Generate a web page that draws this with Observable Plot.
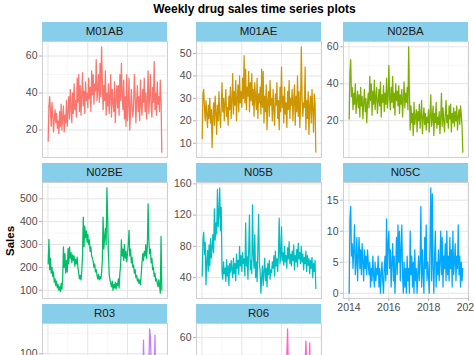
<!DOCTYPE html>
<html><head><meta charset="utf-8">
<script src="https://cdn.jsdelivr.net/npm/d3@7"></script>
<script src="https://cdn.jsdelivr.net/npm/@observablehq/plot@0.6"></script>
<style>
html,body{margin:0;padding:0;overflow:hidden;background:#fff;}
#chart{position:relative;width:474px;height:470px;font-family:"Liberation Sans",Arial,sans-serif;color:#000;}
.title{position:absolute;left:254.5px;top:2px;transform:translateX(-50%);white-space:nowrap;font-weight:bold;font-size:12px;line-height:14px;}
.ylab{position:absolute;left:10px;top:241px;transform:translate(-50%,-50%) rotate(-90deg);font-weight:bold;font-size:11.5px;white-space:nowrap;}
.strip{position:absolute;height:19px;line-height:19px;background:#87CEEB;color:#1a1a1a;font-size:11.5px;text-align:center;}
</style></head><body><div id="chart"></div>
<script>
const drugs = ["M01AB","M01AE","N02BA","N02BE","N05B","N05C","R03","R06"];
const colors = ["#F8766D","#CD9600","#7CAE00","#00BE67","#00BFC4","#00A9FF","#C77CFF","#FF61CC"];
const startDate = "2014-01-05";   // first week, values are every second week

const M01AB = [14,33,38,30,22,35,28,19,26,31,24,29,21,
25,18,30,22,34,20,27,33,19,28,24,36,22,
30,38,26,42,33,24,40,29,45,31,36,27,48,
35,50,30,44,28,38,51,33,41,29,46,36,40,
32,48,37,43,30,52,39,50,34,45,41,58,36,
42,50,35,56,38,65,47,31,44,36,52,28,40,
33,45,29,38,50,27,42,35,30,46,24,37,44,
32,44,28,50,36,56,40,31,47,26,38,22,50,
25,35,48,20,30,42,33,27,33,50,39,24,36,
44,30,38,25,47,33,28,42,35,48,30,40,26,
36,52,29,38,50,32,27,43,35,57,31,40,28,
46,34,38,30,47,36,8];

const M01AE = [12,32,34,26,20,29,23,17,27,21,30,19,25,
8,22,28,18,31,24,14,27,20,33,23,17,26,
37,24,30,20,28,34,22,26,18,31,25,35,21,
29,41,23,33,27,38,20,30,36,24,40,28,33,
26,39,30,49,28,43,25,35,31,42,24,37,29,
41,27,34,22,37,30,25,39,21,32,28,35,23,
43,26,42,19,31,24,36,16,29,33,22,38,27,
30,20,34,25,18,32,27,37,21,29,16,35,24,
44,26,31,19,35,23,28,17,33,25,38,21,30,
27,34,20,29,36,18,31,24,40,22,33,17,28,
53,30,22,28,26,44,16,29,21,33,14,27,31,
19,34,25,15,32,28,6];

const N02BA = [21,46,53,33,38,26,35,29,40,24,31,36,27,
34,22,38,28,33,21,30,37,25,32,19,29,35,
27,44,31,40,23,36,29,42,26,33,38,24,30,
37,28,41,22,34,30,39,25,35,29,43,27,32,
50,33,26,38,30,44,27,35,23,40,31,36,28,
39,24,34,29,37,22,32,41,27,35,30,38,26,
60,35,15,28,19,24,12,30,18,22,26,14,25,
20,29,16,23,31,13,21,27,18,24,15,22,19,
26,14,23,34,17,21,28,12,24,19,30,16,22,
18,25,13,22,35,17,27,20,14,24,31,19,23,
16,28,21,29,14,24,19,27,17,25,20,28,15,
22,26,18,28,23,17,3];

const N02BE = [215,322,190,240,175,200,160,180,135,150,120,140,110,
125,100,115,95,130,105,150,290,200,260,175,230,180,
283,215,290,240,265,220,255,230,250,205,235,215,245,
200,175,150,165,145,180,250,420,290,380,330,360,310,
345,300,320,270,290,250,240,225,200,215,180,190,165,
150,170,145,160,150,175,230,420,280,330,370,300,548,
420,260,170,145,130,115,140,100,125,110,135,105,130,
120,150,110,175,210,320,250,280,230,300,240,270,225,
260,300,362,250,280,220,245,200,210,175,190,155,165,
140,150,130,145,125,170,220,260,230,270,250,300,240,
290,478,320,260,280,220,240,190,200,160,175,140,150,
130,115,145,120,87,336,101];

const N05B = [42,88,98,70,85,31,60,75,48,82,55,90,65,
78,95,72,128,88,110,96,153,105,122,155,100,130,
48,38,60,45,52,35,63,42,55,30,58,47,62,
50,40,65,45,58,36,70,52,62,44,80,55,68,
48,72,58,64,42,110,55,67,38,75,120,50,62,
45,133,70,52,95,40,60,35,78,121,58,48,20,
40,55,30,48,65,36,52,28,58,44,62,38,50,
46,60,52,68,42,74,55,64,48,70,116,58,66,
105,62,72,56,80,60,68,52,78,64,86,58,70,
55,74,62,82,50,68,60,76,54,84,64,72,58,
80,60,70,50,66,58,74,48,68,56,64,45,62,
52,66,40,58,48,62,26];

const N05C = [0,12,14,6,8,4,7,11,3,5,9,2,6,
9,4,7,3,8,5,2,7,4,6,3,7,5,
3,5,1,4,2,6,3,1,5,2,4,3,6,
1,4,0,3,5,2,0,4,6,2,12,3,8,
10,4,7,1,5,8,2,6,0,4,9,3,11,
5,10,2,7,11,3,0,5,1,4,0,6,2,
4,0,10,3,6,1,5,0,7,2,4,0,3,
6,2,5,14,1,7,3,0,9,4,11,2,5,
3,0,8,17,2,16,4,0,6,10,1,5,3,
7,2,5,10,3,9,1,6,4,8,2,10,3,
6,2,9,4,7,1,10,3,5,8,2,6,4,
11,3,6,1,5,2,4];

const R03 = [35,42,28,50,38,45,30,55,40,33,48,36,44,
30,25,38,22,34,28,40,32,46,38,52,44,60,
48,70,55,62,45,58,40,52,36,48,32,42,30,
26,35,22,30,28,38,45,36,52,44,58,50,65,
55,72,60,66,48,56,42,50,38,46,34,40,30,
28,36,24,32,40,35,48,42,56,50,64,58,75,
62,80,66,70,52,60,45,55,40,48,36,44,32,
30,38,26,34,42,36,50,44,58,52,68,60,85,
70,92,75,64,70,55,62,48,54,42,50,38,44,
34,40,30,38,46,40,55,48,117,60,75,66,88,
72,95,80,131,121,90,74,82,65,70,123,60,52,
46,40,50,38,44,35,0];

const R06 = [8,10,12,15,20,28,35,30,38,25,20,15,12,
10,8,9,7,10,8,11,9,7,10,8,9,11,
12,14,18,24,30,40,35,44,30,25,18,14,12,
10,9,8,11,7,9,10,8,12,9,7,10,8,
11,13,16,22,28,36,42,33,38,26,19,15,11,
9,10,7,8,11,9,6,10,8,9,7,11,10,
12,15,20,26,34,45,38,48,32,24,18,13,10,
9,8,10,7,9,11,8,6,10,9,7,8,11,
12,16,22,28,36,44,40,50,65,42,30,20,14,
10,9,7,8,11,6,9,10,8,7,9,11,12,
14,18,24,30,38,46,58,44,40,48,35,57,28,
18,14,10,8,6,9,5];

const yTickLabels = {
  M01AB: [20,40,60], M01AE: [10,20,30,40,50], N02BA: [20,40,60],
  N02BE: [100,200,300,400,500], N05B: [40,80,120,160], N05C: [0,5,10,15],
  R03: [0,50,100], R06: [20,40,60]
};
const xTickYears = [2014,2016,2018,2020];
const xMinorYears = [2015,2017,2019];

const series = {M01AB, M01AE, N02BA, N02BE, N05B, N05C, R03, R06};
const start = new Date(startDate + "T00:00:00Z");
const dates = M01AB.map((_, i) => d3.utcDay.offset(start, 14 * i));
const yearDate = y => new Date(Date.UTC(y, 0, 1));
const majorX = xTickYears.map(yearDate), minorX = xMinorYears.map(yearDate);

const chart = document.getElementById("chart");
const title = document.createElement("div");
title.className = "title"; title.textContent = "Weekly drug sales time series plots";
chart.appendChild(title);
const ylab = document.createElement("div");
ylab.className = "ylab"; ylab.textContent = "Sales";
chart.appendChild(ylab);

const colX = [42, 196, 343], rowY = [41, 182, 323], W = 125, H = 116, SH = 19;
const font = "'Liberation Sans', Arial, sans-serif";

drugs.forEach((name, k) => {
  const col = k % 3, row = Math.floor(k / 3);
  const x0 = colX[col], y0 = rowY[row];
  const vals = series[name];
  const data = vals.map((v, i) => ({date: dates[i], value: v}));
  const [lo, hi] = d3.extent(vals), pad = (hi - lo) * 0.05;
  const yDom = [lo - pad, hi + pad];
  const t0 = +dates[0], t1 = +dates[vals.length - 1], tp = (t1 - t0) * 0.05;
  const xDom = [new Date(t0 - tp), new Date(t1 + tp)];
  const majors = yTickLabels[name], step = majors[1] - majors[0];
  const minors = [majors[0] - step / 2, ...majors.map(m => m + step / 2)].filter(v => v > yDom[0] && v < yDom[1]);
  const showX = k >= 5;
  const ML = 34, MT = 1, MR = 1, MB = showX ? 18 : 1;
  const marks = [
    Plot.gridX(minorX, {stroke: "#f0f0f0", strokeOpacity: 1, strokeWidth: 0.6}),
    Plot.gridX(majorX, {stroke: "#e4e4e4", strokeOpacity: 1, strokeWidth: 1}),
    Plot.gridY(minors, {stroke: "#f0f0f0", strokeOpacity: 1, strokeWidth: 0.6}),
    Plot.gridY(majors, {stroke: "#e4e4e4", strokeOpacity: 1, strokeWidth: 1}),
    Plot.line(data, {x: "date", y: "value", stroke: colors[k], strokeWidth: 1.25}),
    Plot.frame({stroke: "#cfcfcf"}),
    Plot.axisY(majors, {tickSize: 3, tickPadding: 2, fontSize: 10.5, stroke: "#b3b3b3", fill: "#4d4d4d", label: null})
  ];
  if (showX) marks.push(Plot.axisX(majorX, {tickSize: 3, tickPadding: 2, fontSize: 10.5, tickFormat: d3.utcFormat("%Y"), stroke: "#b3b3b3", fill: "#4d4d4d", label: null}));
  const svg = Plot.plot({
    width: W + ML + MR, height: H + MT + MB,
    marginLeft: ML, marginTop: MT, marginRight: MR, marginBottom: MB,
    style: {fontFamily: font, background: "transparent", overflow: "visible"},
    x: {type: "utc", domain: xDom, axis: null},
    y: {domain: yDom, axis: null},
    marks
  });
  svg.style.position = "absolute";
  svg.style.left = (x0 - ML) + "px";
  svg.style.top = (y0 - MT) + "px";
  chart.appendChild(svg);
  const strip = document.createElement("div");
  strip.className = "strip";
  strip.style.left = x0 + "px"; strip.style.top = (y0 - SH) + "px"; strip.style.width = W + "px";
  strip.textContent = name;
  chart.appendChild(strip);
});
</script></body></html>
